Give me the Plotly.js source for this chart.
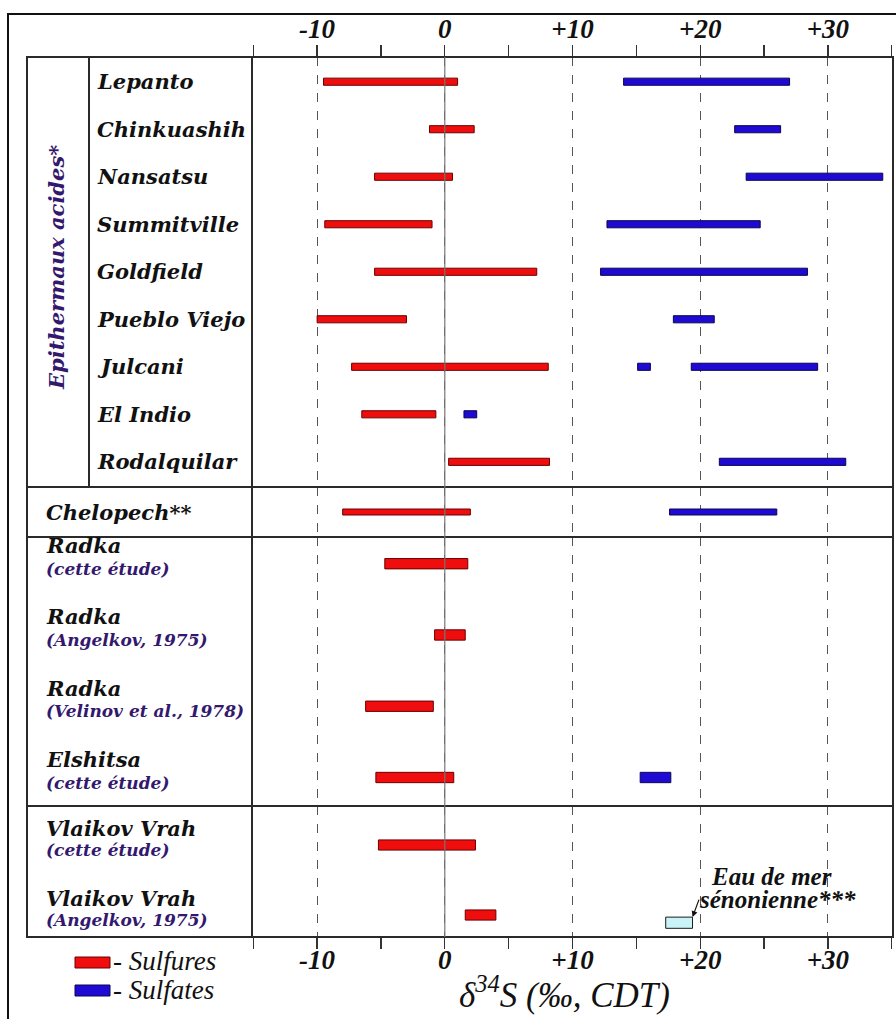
<!DOCTYPE html>
<html>
<head>
<meta charset="utf-8">
<script src="https://cdn.plot.ly/plotly-3.0.1.min.js"></script>
<style>html,body{margin:0;padding:0;background:#fff;}</style>
</head>
<body>
<div id="chart" style="width:896px;height:1019px;"></div>
<script>
// ---------- DATA ----------
// Section 1 : Epithermaux acides
const sites1 = ['Lepanto','Chinkuashih','Nansatsu','Summitville','Goldfield','Pueblo Viejo','Julcani','El Indio','Rodalquilar'];
const sulfuresMin1 = [-9.5, -1.2, -5.5, -9.4, -5.5, -10.0, -7.3, -6.5, 0.3];
const sulfuresMax1 = [ 1.0,  2.3,  0.6, -1.0,  7.2,  -3.0,  8.1, -0.7, 8.2];
const sulfatesSites1 = ['Lepanto','Chinkuashih','Nansatsu','Summitville','Goldfield','Pueblo Viejo','Julcani','Julcani','El Indio','Rodalquilar'];
const sulfatesMin1 = [14.0, 22.7, 23.6, 12.7, 12.2, 17.9, 15.1, 19.3, 1.5, 21.5];
const sulfatesMax1 = [27.0, 26.3, 34.3, 24.7, 28.4, 21.1, 16.1, 29.2, 2.5, 31.4];

// Section 2 : Chelopech
const sites2 = ['Chelopech**'];
const sulfuresMin2 = [-8.0];
const sulfuresMax2 = [2.0];
const sulfatesMin2 = [17.6];
const sulfatesMax2 = [26.0];

// Section 3 : Radka / Elshitsa
const names3 = ['Radka','Radka','Radka','Elshitsa'];
const refs3 = ['(cette étude)','(Angelkov, 1975)','(Velinov et al., 1978)','(cette étude)'];
const sulfuresMin3 = [-4.7, -0.8, -6.2, -5.4];
const sulfuresMax3 = [ 1.8,  1.6, -0.9,  0.7];
const sulfatesSites3Idx = [3];
const sulfatesMin3 = [15.3];
const sulfatesMax3 = [17.7];

// Section 4 : Vlaikov Vrah
const names4 = ['Vlaikov Vrah','Vlaikov Vrah'];
const refs4 = ['(cette étude)','(Angelkov, 1975)'];
const sulfuresMin4 = [-5.2, 1.6];
const sulfuresMax4 = [ 2.4, 4.0];
// Eau de mer sénonienne
const seawaterMin = [17.3];
const seawaterMax = [19.4];
const seawaterRowIdx = [1];

// Axis ticks
const tickValues = [-10, 0, 10, 20, 30];
const tickLabels = ['-10', '0', '+10', '+20', '+30'];

// ---------- STYLE / HELPERS ----------
const W = 896, H = 1019;
const M = {l: 252, r: 3, t: 57, b: 82};
const PW = W - M.l - M.r, PH = H - M.t - M.b;
const px2x = px => (px - M.l) / PW;
const py2y = py => (H - M.b - py) / PH;

const RED = '#f00d0d', RED_LINE = '#6a0000';
const BLUE = '#1e0ad2', BLUE_LINE = '#0a0650';
const PURPLE = '#33186e';
const SERIF = 'DejaVu Serif';
const TIMES = 'Liberation Serif';

const ids3 = names3.map((n, i) => n + ' ' + refs3[i]);
const ids4 = names4.map((n, i) => n + ' ' + refs4[i]);

const diff = (a, b) => a.map((v, i) => b[i] - v);

function barTrace(yIds, mins, maxs, xaxis, yaxis, color, line, width, extra) {
  return Object.assign({
    type: 'bar', orientation: 'h',
    y: yIds, base: mins, x: diff(mins, maxs),
    yaxis: yaxis, xaxis: xaxis,
    width: width,
    marker: {color: color, line: {color: line, width: 1}},
    hoverinfo: 'skip', showlegend: false
  }, extra || {});
}

const traces = [
  barTrace(sites1, sulfuresMin1, sulfuresMax1, 'x2', 'y', RED, RED_LINE, 0.15),
  barTrace(sulfatesSites1, sulfatesMin1, sulfatesMax1, 'x2', 'y', BLUE, BLUE_LINE, 0.15),
  barTrace(sites2, sulfuresMin2, sulfuresMax2, 'x', 'y2', RED, RED_LINE, 0.12),
  barTrace(sites2, sulfatesMin2, sulfatesMax2, 'x', 'y2', BLUE, BLUE_LINE, 0.12),
  barTrace(ids3, sulfuresMin3, sulfuresMax3, 'x', 'y3', RED, RED_LINE, 0.145),
  barTrace(sulfatesSites3Idx.map(i => ids3[i]), sulfatesMin3, sulfatesMax3, 'x', 'y3', BLUE, BLUE_LINE, 0.145),
  barTrace(ids4, sulfuresMin4, sulfuresMax4, 'x', 'y4', RED, RED_LINE, 0.145),
  barTrace(seawaterRowIdx.map(i => ids4[i]), seawaterMin, seawaterMax, 'x', 'y4', '#c9f3f6', '#1a1a1a', 0.16, {offset: 0.03})
];

// domains (section boundaries in pixels)
const b1 = 487, b2 = 537, b3 = 806;
const yCommon = {type: 'category', showticklabels: false, showgrid: false, zeroline: false, showline: false, ticks: '', fixedrange: true};

const tickFont = {family: TIMES, size: 27, weight: 'bold', style: 'italic', color: '#111'};
const xCommon = {
  range: [-15.1, 35.1], tickmode: 'array', tickvals: tickValues, ticktext: tickLabels,
  ticks: 'outside', ticklen: 11, tickwidth: 1.3, tickcolor: '#333',
  minor: {tickmode: 'linear', tick0: 0, dtick: 5, ticks: 'outside', ticklen: 11, tickwidth: 1.3, tickcolor: '#333', showgrid: false},
  tickfont: tickFont, showline: false, zeroline: false, fixedrange: true,
  showgrid: true, gridcolor: '#555', griddash: 'dash', gridwidth: 1
};

const layout = {
  width: W, height: H, margin: M,
  paper_bgcolor: '#fff', plot_bgcolor: '#fff',
  barmode: 'overlay', showlegend: false,
  xaxis: Object.assign({}, xCommon, {anchor: 'y4', side: 'bottom', ticklabelstandoff: -12}),
  xaxis2: Object.assign({}, xCommon, {anchor: 'y', side: 'top', matches: 'x', ticklabelstandoff: -4}),
  yaxis: Object.assign({}, yCommon, {domain: [py2y(b1), 1], categoryorder: 'array', categoryarray: sites1, range: [8.53, -0.52]}),
  yaxis2: Object.assign({}, yCommon, {domain: [py2y(b2), py2y(b1)], categoryorder: 'array', categoryarray: sites2, range: [0.5, -0.5]}),
  yaxis3: Object.assign({}, yCommon, {domain: [py2y(b3), py2y(b2)], categoryorder: 'array', categoryarray: ids3, range: [3.40, -0.375]}),
  yaxis4: Object.assign({}, yCommon, {domain: [0, py2y(b3)], categoryorder: 'array', categoryarray: ids4, range: [1.314, -0.557]}),
  shapes: [],
  annotations: []
};

const S = layout.shapes, A = layout.annotations;
const tableLine = {color: '#2a2a2a', width: 2};
// outer frame
S.push({type: 'rect', xref: 'paper', yref: 'paper', x0: px2x(8), x1: px2x(910), y0: py2y(1030), y1: py2y(14), line: {color: '#111', width: 2}});
// table
S.push({type: 'rect', xref: 'paper', yref: 'paper', x0: px2x(27), x1: 1, y0: 0, y1: 1, line: tableLine});
S.push({type: 'line', xref: 'paper', yref: 'paper', x0: 0, x1: 0, y0: 0, y1: 1, line: tableLine});
S.push({type: 'line', xref: 'paper', yref: 'paper', x0: px2x(89), x1: px2x(89), y0: py2y(b1), y1: 1, line: tableLine});
[b1, b2, b3].forEach(b => S.push({type: 'line', xref: 'paper', yref: 'paper', x0: px2x(27), x1: 1, y0: py2y(b), y1: py2y(b), line: tableLine}));
// zero reference line (drawn over bars)
S.push({type: 'line', xref: 'x', yref: 'paper', x0: 0, x1: 0, y0: 0, y1: 1, layer: 'above', line: {color: '#777', width: 1.2}});

// legend
S.push({type: 'rect', xref: 'paper', yref: 'paper', x0: px2x(75), x1: px2x(110), y0: py2y(968), y1: py2y(957), fillcolor: RED, line: {color: RED_LINE, width: 1}});
S.push({type: 'rect', xref: 'paper', yref: 'paper', x0: px2x(75), x1: px2x(110), y0: py2y(996), y1: py2y(985), fillcolor: BLUE, line: {color: BLUE_LINE, width: 1}});
const legFont = {family: TIMES, size: 27, style: 'italic', color: '#111'};
A.push({xref: 'paper', yref: 'paper', x: px2x(111), y: py2y(961), xanchor: 'left', yanchor: 'middle', text: '- Sulfures', showarrow: false, font: legFont});
A.push({xref: 'paper', yref: 'paper', x: px2x(111), y: py2y(990), xanchor: 'left', yanchor: 'middle', text: '- Sulfates', showarrow: false, font: legFont});

// axis title
A.push({xref: 'paper', yref: 'paper', x: px2x(564), y: py2y(992), xanchor: 'center', yanchor: 'middle',
  text: 'δ<sup>34</sup>S (‰, CDT)', showarrow: false, font: {family: TIMES, size: 35, style: 'italic', color: '#111'}});

// row labels
const nameFont = {family: SERIF, size: 21, weight: 'bold', style: 'italic', color: '#111'};
const refFont = {family: SERIF, size: 17, weight: 'bold', style: 'italic', color: PURPLE};
sites1.forEach(s => A.push({xref: 'paper', yref: 'y', x: px2x(95), y: s, xanchor: 'left', yanchor: 'middle', text: s, showarrow: false, font: nameFont}));
sites2.forEach(s => A.push({xref: 'paper', yref: 'y2', x: px2x(44), y: s, xanchor: 'left', yanchor: 'middle', text: s, showarrow: false, font: nameFont}));
ids3.forEach((id, i) => {
  A.push({xref: 'paper', yref: 'y3', x: px2x(44), y: id, xanchor: 'left', yanchor: 'middle', yshift: 18, text: names3[i], showarrow: false, font: nameFont});
  A.push({xref: 'paper', yref: 'y3', x: px2x(44), y: id, xanchor: 'left', yanchor: 'middle', yshift: -5, text: refs3[i], showarrow: false, font: refFont});
});
ids4.forEach((id, i) => {
  A.push({xref: 'paper', yref: 'y4', x: px2x(44), y: id, xanchor: 'left', yanchor: 'middle', yshift: 17, text: names4[i], showarrow: false, font: nameFont});
  A.push({xref: 'paper', yref: 'y4', x: px2x(44), y: id, xanchor: 'left', yanchor: 'middle', yshift: -5, text: refs4[i], showarrow: false, font: refFont});
});
// group label
A.push({xref: 'paper', yref: 'paper', x: px2x(56), y: py2y(268), xanchor: 'center', yanchor: 'middle', textangle: -90,
  text: 'Epithermaux acides*', showarrow: false, font: {family: SERIF, size: 21, weight: 'bold', style: 'italic', color: PURPLE}});

// seawater annotation
A.push({xref: 'x', yref: 'y4', x: seawaterMax[0], y: seawaterRowIdx[0] + 0.03, text: '', showarrow: true,
  arrowhead: 2, arrowsize: 1, arrowwidth: 1.2, arrowcolor: '#111', ax: 7, ay: -19, standoff: 0});
const swFont = {family: TIMES, size: 25, weight: 'bold', style: 'italic', color: '#111'};
A.push({xref: 'paper', yref: 'paper', x: px2x(709), y: py2y(876), xanchor: 'left', yanchor: 'middle', text: 'Eau de mer', showarrow: false, font: swFont});
A.push({xref: 'paper', yref: 'paper', x: px2x(697), y: py2y(899), xanchor: 'left', yanchor: 'middle', text: 'sénonienne***', showarrow: false, font: swFont});

Plotly.newPlot('chart', traces, layout, {staticPlot: true, displayModeBar: false});
</script>
</body>
</html>
